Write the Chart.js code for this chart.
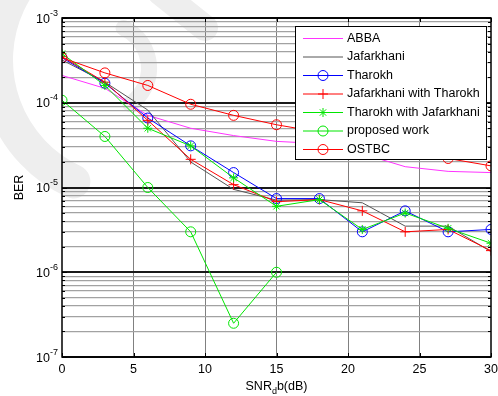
<!DOCTYPE html>
<html>
<head>
<meta charset="utf-8">
<script src="https://cdn.jsdelivr.net/npm/chart.js@4.4.0/dist/chart.umd.min.js"></script>
<style>
  html, body { margin: 0; padding: 0; background: #fff; }
  #wrap { width: 498px; height: 396px; }
</style>
</head>
<body>
<div id="wrap"><canvas id="berChart" width="498" height="396"></canvas></div>
<script>
// SNR points (dB)
const snr = [0, 3, 6, 9, 12, 15, 18, 21, 24, 27, 30];

// BER values
const abba        = [2.1e-4, 1.48e-4, 7.1e-5, 5.0e-5, 4.1e-5, 3.5e-5, 3.3e-5, 2.5e-5, 1.76e-5, 1.55e-5, 1.5e-5];
const jafarkhani  = [3.2e-4, 1.75e-4, 8.2e-5, 2.0e-5, 9.5e-6, 7.1e-6, 7.2e-6, 6.6e-6, 3.5e-6, 3.5e-6, 1.75e-6];
const tharokh     = [3.4e-4, 1.7e-4, 6.6e-5, 3.1e-5, 1.5e-5, 7.4e-6, 7.4e-6, 3.0e-6, 5.3e-6, 3.0e-6, 3.2e-6];
const jafWithTha  = [3.5e-4, 1.75e-4, 6.2e-5, 2.15e-5, 1.08e-5, 6.8e-6, 7.2e-6, 5.3e-6, 3.0e-6, 3.2e-6, 1.8e-6];
const thaWithJaf  = [3.8e-4, 1.6e-4, 5.0e-5, 3.1e-5, 1.3e-5, 6.0e-6, 7.2e-6, 3.2e-6, 5.0e-6, 3.3e-6, 2.2e-6];
const proposed    = [1.07e-4, 4.0e-5, 1.0e-5, 3.0e-6, 2.5e-7, 1.0e-6, null, null, null, null, null];
const ostbc       = [3.4e-4, 2.25e-4, 1.6e-4, 9.6e-5, 7.1e-5, 5.5e-5, 4.5e-5, 3.6e-5, 2.8e-5, 2.2e-5, 1.8e-5];

// axis ticks
const xTicks = [0, 5, 10, 15, 20, 25, 30];
const yDecades = [-7, -6, -5, -4, -3];

const FONT = '"Liberation Sans", Arial, sans-serif';

function toPoints(vals) {
    return snr.map((x, i) => ({ x: x, y: vals[i] })).filter(p => p.y != null);
}

function series(label, vals, color, style, radius) {
    return {
        label: label,
        data: toPoints(vals),
        borderColor: color,
        backgroundColor: 'rgba(0,0,0,0)',
        borderWidth: 1,
        pointStyle: style || 'circle',
        pointRadius: style ? radius : 0,
        pointHoverRadius: style ? radius : 0,
        pointBorderWidth: 1,
        pointBorderColor: color,
        pointBackgroundColor: 'rgba(0,0,0,0)',
        tension: 0,
        fill: false
    };
}

const datasets = [
    series('ABBA', abba, '#ff33ff', null, 0),
    series('Jafarkhani', jafarkhani, '#555555', null, 0),
    series('Tharokh', tharokh, '#0000ff', 'circle', 5),
    series('Jafarkhani with Tharokh', jafWithTha, '#ff0000', 'cross', 5),
    series('Tharokh with Jafarkhani', thaWithJaf, '#00e600', 'star', 4.5),
    series('proposed work', proposed, '#00e600', 'circle', 5),
    series('OSTBC', ostbc, '#ff0000', 'circle', 5)
];
// MATLAB draws later curves on top
datasets.forEach((d, i) => { d.order = datasets.length - i; });

function isDecade(v) {
    const e = Math.log10(v);
    return Math.abs(e - Math.round(e)) < 1e-9;
}

// markers for the legend
function drawMarker(ctx, style, x, y, r) {
    ctx.beginPath();
    if (style === 'circle') {
        ctx.arc(x, y, r, 0, Math.PI * 2);
    } else if (style === 'cross' || style === 'star') {
        ctx.moveTo(x - r, y); ctx.lineTo(x + r, y);
        ctx.moveTo(x, y - r); ctx.lineTo(x, y + r);
        if (style === 'star') {
            const d = r * Math.SQRT1_2;
            ctx.moveTo(x - d, y - d); ctx.lineTo(x + d, y + d);
            ctx.moveTo(x - d, y + d); ctx.lineTo(x + d, y - d);
        }
    }
    ctx.stroke();
}

// faint watermark swooshes behind the plot
const watermark = {
    id: 'watermark',
    beforeDraw(chart) {
        const ctx = chart.ctx;
        ctx.save();
        ctx.strokeStyle = '#eeeeee';
        ctx.lineCap = 'round';
        ctx.lineWidth = 34;
        ctx.beginPath();
        ctx.arc(130, 60, 134, 115 * Math.PI / 180, 235 * Math.PI / 180);
        ctx.stroke();
        ctx.lineWidth = 16;
        ctx.beginPath();
        ctx.arc(105, 68, 44, -65 * Math.PI / 180, 55 * Math.PI / 180);
        ctx.stroke();
        ctx.lineWidth = 26;
        ctx.beginPath();
        ctx.moveTo(160, -8);
        ctx.lineTo(205, 28);
        ctx.stroke();
        ctx.restore();
    }
};

const matlabLook = {
    id: 'matlabLook',
    afterDraw(chart) {
        const ctx = chart.ctx;
        const a = chart.chartArea;
        const xs = chart.scales.x;
        const ys = chart.scales.y;
        ctx.save();

        // inside tick marks
        ctx.strokeStyle = '#000';
        ctx.lineWidth = 1;
        ctx.beginPath();
        xTicks.forEach(t => {
            const px = Math.round(xs.getPixelForValue(t)) + 0.5;
            ctx.moveTo(px, a.bottom); ctx.lineTo(px, a.bottom - 4);
            ctx.moveTo(px, a.top); ctx.lineTo(px, a.top + 4);
        });
        ys.ticks.forEach(t => {
            const py = Math.round(ys.getPixelForValue(t.value)) + 0.5;
            const len = isDecade(t.value) ? 5 : 3;
            ctx.moveTo(a.left, py); ctx.lineTo(a.left + len, py);
            ctx.moveTo(a.right, py); ctx.lineTo(a.right - len, py);
        });
        ctx.stroke();

        // axes box
        ctx.lineWidth = 1.5;
        ctx.strokeRect(a.left, a.top, a.right - a.left, a.bottom - a.top);

        // x tick labels
        ctx.fillStyle = '#000';
        ctx.font = '12.5px ' + FONT;
        ctx.textAlign = 'center';
        ctx.textBaseline = 'middle';
        xTicks.forEach(t => ctx.fillText(String(t), xs.getPixelForValue(t), a.bottom + 13));

        // y tick labels 10^k
        ctx.textAlign = 'left';
        ctx.textBaseline = 'alphabetic';
        yDecades.forEach(k => {
            const py = ys.getPixelForValue(Math.pow(10, k));
            const expStr = '-' + Math.abs(k);
            ctx.font = '9px ' + FONT;
            const ew = ctx.measureText(expStr).width;
            ctx.font = '12.5px ' + FONT;
            const tw = ctx.measureText('10').width;
            const right = a.left - 4;
            ctx.fillText('10', right - ew - tw, py + 4.5);
            ctx.font = '9px ' + FONT;
            ctx.fillText(expStr, right - ew, py - 2.5);
        });

        // y axis title
        ctx.save();
        ctx.translate(20, (a.top + a.bottom) / 2);
        ctx.rotate(-Math.PI / 2);
        ctx.font = '12.5px ' + FONT;
        ctx.textAlign = 'center';
        ctx.textBaseline = 'middle';
        ctx.fillText('BER', 0, 0);
        ctx.restore();

        // x axis title with subscript: SNR_d b(dB)
        ctx.font = '12.5px ' + FONT;
        const w1 = ctx.measureText('SNR').width;
        const w3 = ctx.measureText('b(dB)').width;
        ctx.font = '9px ' + FONT;
        const w2 = ctx.measureText('d').width;
        let tx = (a.left + a.right) / 2 - (w1 + w2 + w3) / 2;
        const base = a.bottom + 33;
        ctx.textAlign = 'left';
        ctx.font = '12.5px ' + FONT;
        ctx.fillText('SNR', tx, base);
        tx += w1;
        ctx.font = '9px ' + FONT;
        ctx.fillText('d', tx, base + 4);
        tx += w2;
        ctx.font = '12.5px ' + FONT;
        ctx.fillText('b(dB)', tx, base);

        // legend box
        const lx = 295.5, ly = 26.5, lw = 191, lh = 133;
        ctx.fillStyle = '#fff';
        ctx.fillRect(lx, ly, lw, lh);
        ctx.strokeStyle = '#000';
        ctx.lineWidth = 1;
        ctx.strokeRect(lx, ly, lw, lh);
        ctx.font = '12.5px ' + FONT;
        ctx.textBaseline = 'middle';
        chart.data.datasets.forEach((d, i) => {
            const y = 38.5 + i * 18.5;
            ctx.strokeStyle = d.borderColor;
            ctx.lineWidth = 1;
            ctx.beginPath();
            ctx.moveTo(303, y); ctx.lineTo(343, y);
            ctx.stroke();
            if (d.pointRadius > 0) drawMarker(ctx, d.pointStyle, 323, y, d.pointRadius);
            ctx.fillStyle = '#000';
            ctx.fillText(d.label, 347, y);
        });

        ctx.restore();
    }
};

const ctx = document.getElementById('berChart').getContext('2d');
const berChart = new Chart(ctx, {
    type: 'line',
    data: { datasets: datasets },
    options: {
        responsive: false,
        animation: false,
        devicePixelRatio: 1,
        layout: { padding: { top: 18, right: 7, left: 0, bottom: 0 } },
        plugins: {
            legend: { display: false },
            tooltip: { enabled: false }
        },
        scales: {
            x: {
                type: 'linear',
                min: 0,
                max: 30,
                ticks: { stepSize: 5, display: false },
                border: { display: false },
                grid: {
                    drawTicks: false,
                    color: c => (c.tick && (c.tick.value === 0 || c.tick.value === 30)) ? 'rgba(0,0,0,0)' : '#808080',
                    lineWidth: 1
                },
                afterFit: s => { s.height = 39; }
            },
            y: {
                type: 'logarithmic',
                min: 1e-7,
                max: 1e-3,
                ticks: { display: false },
                border: { display: false },
                afterBuildTicks: s => {
                    const t = [];
                    yDecades.forEach(k => {
                        for (let m = 1; m <= 9; m++) {
                            if (k === -3 && m > 1) break;
                            t.push({ value: m * Math.pow(10, k) });
                        }
                    });
                    s.ticks = t;
                },
                grid: {
                    drawTicks: false,
                    color: c => (c.tick && isDecade(c.tick.value)) ? '#1a1a1a' : '#a2a2a2',
                    lineWidth: c => (c.tick && isDecade(c.tick.value)) ? 2 : 1.2
                },
                afterFit: s => { s.width = 62; }
            }
        }
    },
    plugins: [watermark, matlabLook]
});
</script>
</body>
</html>
